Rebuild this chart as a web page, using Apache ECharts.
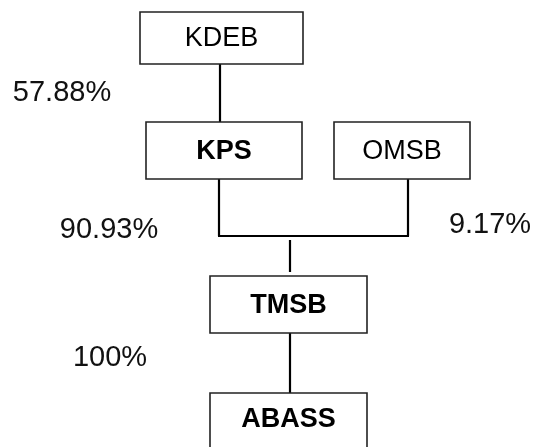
<!DOCTYPE html>
<html>
<head>
<meta charset="utf-8">
<script src="https://cdn.jsdelivr.net/npm/echarts@6/dist/echarts.min.js"></script>
<style>
html,body{margin:0;padding:0;background:#fff;}
#chart{width:535px;height:447px;}
</style>
</head>
<body>
<div id="chart"></div>
<script>
// ---- data ----
const companies = ['KDEB', 'KPS', 'OMSB', 'TMSB', 'ABASS'];
const boldNames = ['KPS', 'TMSB', 'ABASS'];
const linkFrom = ['KDEB', 'KPS', 'OMSB', 'TMSB'];
const linkTo = ['KPS', 'TMSB', 'TMSB', 'ABASS'];
const stakeLabels = ['57.88%', '90.93%', '9.17%', '100%'];

// ---- layout (diagram space, mapped through the axes) ----
const boxLayout = {
  KDEB:  [140, 12, 303, 64],
  KPS:   [146, 122, 302, 179],
  OMSB:  [334, 122, 470, 179],
  TMSB:  [210, 276, 367, 333],
  ABASS: [210, 393, 367, 455]
};
const connectorLayout = [
  [[220, 64], [220, 122]],
  [[219, 179], [219, 236]],
  [[408, 179], [408, 236]],
  [[218, 236], [409, 236]],
  [[290, 240], [290, 272]],
  [[290, 333], [290, 393]]
];
const labelLayout = [[62, 93], [109, 230], [490, 225], [110, 358]];

const boxData = companies.map(n => boxLayout[n].concat([n]));
const labelData = stakeLabels.map((t, i) => labelLayout[i].concat([t]));

const chart = echarts.init(document.getElementById('chart'));
chart.setOption({
  animation: false,
  grid: {left: 0, right: 0, top: 0, bottom: 0},
  xAxis: {type: 'value', min: 0, max: 535, show: false},
  yAxis: {type: 'value', min: 0, max: 447, inverse: true, show: false},
  series: [
    {
      type: 'lines',
      coordinateSystem: 'cartesian2d',
      polyline: false,
      silent: true,
      lineStyle: {color: '#000', width: 2.2, opacity: 1},
      data: connectorLayout.map(c => ({coords: c})),
      z: 1
    },
    {
      type: 'custom',
      silent: true,
      data: boxData,
      z: 2,
      renderItem: function (params, api) {
        const p0 = api.coord([api.value(0), api.value(1)]);
        const p1 = api.coord([api.value(2), api.value(3)]);
        const name = boxData[params.dataIndex][4];
        const bold = boldNames.indexOf(name) >= 0;
        return {
          type: 'group',
          children: [
            {
              type: 'rect',
              shape: {x: p0[0], y: p0[1], width: p1[0] - p0[0], height: p1[1] - p0[1]},
              style: {fill: '#fff', stroke: '#222', lineWidth: 1.6}
            },
            {
              type: 'text',
              style: {
                x: (p0[0] + p1[0]) / 2,
                y: name === 'ABASS' ? p0[1] + 27 : (p0[1] + p1[1]) / 2 + 1,
                text: name,
                align: 'center',
                verticalAlign: 'middle',
                font: (bold ? 'bold ' : '') + '27px "Liberation Sans", Arial, sans-serif',
                fill: '#000'
              }
            }
          ]
        };
      }
    },
    {
      type: 'custom',
      silent: true,
      data: labelData,
      z: 3,
      renderItem: function (params, api) {
        const p = api.coord([api.value(0), api.value(1)]);
        return {
          type: 'text',
          style: {
            x: p[0], y: p[1],
            text: labelData[params.dataIndex][2],
            align: 'center',
            verticalAlign: 'middle',
            font: '29px "Liberation Sans", Arial, sans-serif',
            fill: '#111'
          }
        };
      }
    }
  ]
});
</script>
</body>
</html>
